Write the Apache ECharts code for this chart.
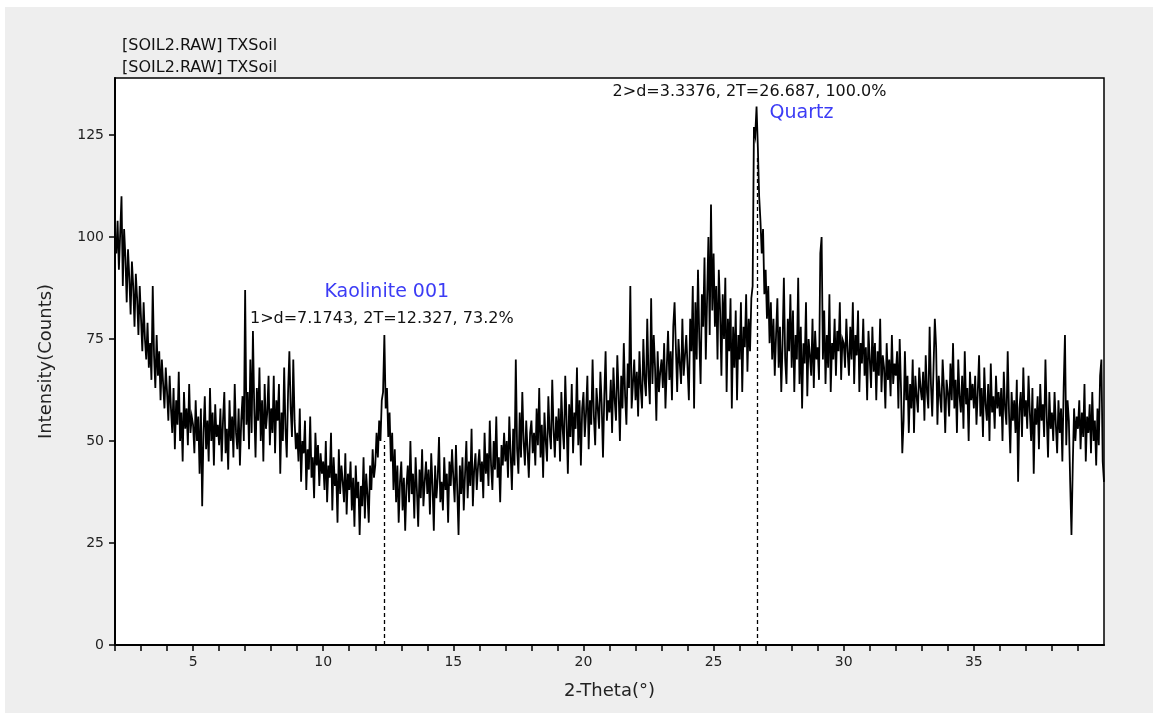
<!DOCTYPE html>
<html>
<head>
<meta charset="utf-8">
<script src="https://cdn.jsdelivr.net/npm/echarts@6.0.0/dist/echarts.min.js"></script>
<style>
  html, body { margin: 0; padding: 0; background: #fff; }
  #main { position: absolute; left: 5px; top: 7px; width: 1148px; height: 706px; background: #eeeeee; }
</style>
</head>
<body>
<div id="main"></div>
<script>
// scan: 2-Theta from 2.00 to 40.00, step 0.05
var startAngle = 2;
var stepAngle = 0.05;

// intensity (counts), one line = one degree (20 steps)
var counts2to6 = [
  100,96,104,92,101,110,88,102,95,84,97,90,81,94,88,78,91,85,76,88,
  80,72,84,75,70,79,68,74,65,88,71,63,76,66,72,60,70,64,58,68,
  62,55,66,58,52,63,48,60,54,67,50,57,45,62,53,58,49,64,52,56,
  54,47,60,50,56,42,58,34,52,61,48,55,45,63,50,57,44,59,51,54
];
var counts6to10 = [
  49,58,45,55,62,47,53,43,60,50,56,46,64,52,48,58,44,55,61,50,
  87,54,62,48,70,52,77,58,46,63,55,68,50,60,45,64,53,57,66,49,
  58,52,66,47,60,55,64,42,57,50,68,53,46,62,72,58,51,70,55,48,
  52,45,58,40,50,47,55,38,48,43,56,41,46,36,52,44,49,39,47,42
];
var counts10to14 = [
  45,38,50,35,44,41,52,33,46,39,42,30,48,37,44,40,35,47,32,42,
  38,45,33,41,29,44,36,40,27,39,34,46,31,42,37,30,44,38,48,41,
  44,52,46,55,50,60,62,76,58,63,51,57,45,52,38,48,35,44,30,40,
  45,33,41,28,39,44,35,50,37,42,31,46,38,29,43,36,48,34,40,45
];
var counts14to18 = [
  37,43,32,47,39,28,44,36,41,51,35,40,33,46,38,42,30,45,39,48,
  41,35,49,38,27,44,37,46,33,42,50,36,45,39,53,34,43,47,38,44,
  48,40,45,36,52,42,47,39,55,44,38,50,43,56,41,46,35,49,44,52,
  45,50,41,56,47,38,53,44,70,48,42,57,46,62,50,44,55,48,41,52
];
var counts18to22 = [
  55,47,52,44,58,49,63,46,54,41,57,50,45,61,52,48,65,53,46,56,
  50,58,45,62,53,48,66,55,42,59,51,64,47,57,53,68,49,60,44,58,
  62,51,57,66,48,60,54,70,56,49,63,58,53,67,59,46,61,72,55,60,
  57,65,52,68,60,55,71,62,50,66,58,74,61,54,69,63,88,58,64,70
];
var counts22to26 = [
  60,67,56,72,63,58,75,65,61,80,66,59,85,64,76,68,55,72,62,67,
  70,63,74,58,68,77,65,72,60,78,84,73,62,75,69,64,80,66,71,76,
  68,60,80,72,88,58,84,70,92,75,64,86,78,95,70,85,100,76,108,82,
  96,78,88,70,92,82,66,86,75,90,62,80,72,85,58,78,68,82,60,76
];
var counts26to30 = [
  70,84,62,78,73,86,67,80,72,85,88,127,125,132,122,110,104,96,102,86,
  92,80,88,74,84,70,80,66,76,85,68,78,62,74,90,70,64,80,72,86,
  68,82,62,76,70,90,64,78,58,74,69,84,61,75,71,66,80,63,77,70,
  73,65,96,100,70,82,64,76,68,86,62,74,70,80,66,77,72,84,65,75
];
var counts30to34 = [
  74,68,80,72,66,78,70,84,64,76,71,82,62,74,69,80,66,73,60,77,
  70,63,78,67,74,60,72,66,80,62,71,68,58,74,65,70,61,76,64,69,
  66,72,58,75,63,47,55,72,60,66,52,64,58,70,52,66,61,57,68,63,
  60,67,55,71,62,58,78,64,56,68,80,73,54,66,61,57,70,63,52,65
];
var counts34to38 = [
  62,56,69,60,74,58,65,52,70,61,57,66,53,72,59,63,50,67,60,64,
  58,66,54,62,71,56,63,51,68,59,55,64,50,69,57,61,53,66,58,62,
  56,63,50,67,58,54,72,57,47,62,55,60,52,65,40,58,62,51,68,56,
  60,53,66,57,50,63,42,58,54,61,48,64,55,59,51,70,56,46,62,53
];
var counts38to40 = [
  57,50,62,54,47,60,52,58,45,63,76,49,60,55,40,27,44,58,50,56,
  53,60,48,57,51,64,45,56,52,59,47,62,50,55,44,58,49,66,70,45,
  40
];

// peak markers
var peakAngles = [12.327, 26.687];
var peakLineTops = [50, 120];
var peakInfo = ['1>d=7.1743, 2T=12.327, 73.2%', '2>d=3.3376, 2T=26.687, 100.0%'];
var phaseNames = ['Kaolinite 001', 'Quartz'];

var xTickLabels = [5, 10, 15, 20, 25, 30, 35];
var yTickLabels = [0, 25, 50, 75, 100, 125];
var headerLines = ['[SOIL2.RAW] TXSoil', '[SOIL2.RAW] TXSoil'];

var counts = [].concat(counts2to6, counts6to10, counts10to14, counts14to18, counts18to22,
  counts22to26, counts26to30, counts30to34, counts34to38, counts38to40);
var scan = [];
for (var i = 0; i < counts.length; i++) {
  scan.push([+(startAngle + i * stepAngle).toFixed(2), counts[i]]);
}
var xMinorTicks = [];
for (var t = 2; t <= 39; t++) xMinorTicks.push(t);

var txt = 'DejaVu Sans';
var chart = echarts.init(document.getElementById('main'));
chart.setOption({
  animation: false,
  backgroundColor: '#eeeeee',
  graphic: [
    { type: 'text', left: 117, top: 31, style: { text: headerLines[0], font: '16px "DejaVu Sans"', fill: '#111' } },
    { type: 'text', left: 117, top: 53, style: { text: headerLines[1], font: '16px "DejaVu Sans"', fill: '#111' } }
  ],
  grid: {
    left: 110, top: 71, width: 989, height: 567,
    show: true, backgroundColor: '#fff', borderColor: '#000', borderWidth: 1.5
  },
  xAxis: {
    type: 'value', min: 2, max: 40,
    name: '2-Theta(°)', nameLocation: 'middle', nameGap: 37,
    nameTextStyle: { fontFamily: txt, fontSize: 18, color: '#222' },
    axisLine: { lineStyle: { color: '#000', width: 2 } },
    axisTick: { show: true, length: 6, lineStyle: { color: '#000', width: 1.5 }, customValues: xMinorTicks },
    axisLabel: { fontFamily: txt, fontSize: 14, color: '#222', margin: 10, customValues: xTickLabels },
    splitLine: { show: false }
  },
  yAxis: {
    type: 'value', min: 0, max: 139,
    name: 'Intensity(Counts)', nameLocation: 'middle', nameGap: 60, nameRotate: 90,
    nameTextStyle: { fontFamily: txt, fontSize: 18, color: '#222' },
    axisLine: { show: true, lineStyle: { color: '#000', width: 2 } },
    axisTick: { show: true, length: 6, lineStyle: { color: '#000', width: 1.5 }, customValues: yTickLabels },
    axisLabel: { fontFamily: txt, fontSize: 14, color: '#222', margin: 11, customValues: yTickLabels },
    splitLine: { show: false }
  },
  series: [{
    type: 'line',
    data: scan,
    showSymbol: false,
    sampling: null,
    lineStyle: { color: '#000', width: 1.8, join: 'miter' },
    markLine: {
      silent: true, symbol: 'none',
      lineStyle: { color: '#000', type: [4, 3], width: 1.3 },
      label: { show: false },
      data: [
        [{ coord: [peakAngles[0], 0] }, { coord: [peakAngles[0], peakLineTops[0]] }],
        [{ coord: [peakAngles[1], 0] }, { coord: [peakAngles[1], peakLineTops[1]] }]
      ]
    },
    markPoint: {
      silent: true, symbol: 'rect', symbolSize: 1,
      itemStyle: { color: 'rgba(0,0,0,0)' },
      label: { show: true, position: 'inside' },
      data: [
        { coord: [peakAngles[0], 86.5], label: { formatter: phaseNames[0], offset: [3, 0], fontFamily: txt, fontSize: 19, color: '#3c3cf5' } },
        { coord: [peakAngles[0], 80], label: { formatter: peakInfo[0], offset: [-2, 0], fontFamily: txt, fontSize: 16, color: '#111' } },
        { coord: [peakAngles[1], 135.6], label: { formatter: peakInfo[1], offset: [-8, 0], fontFamily: txt, fontSize: 16, color: '#111' } },
        { coord: [peakAngles[1], 130.4], label: { formatter: phaseNames[1], align: 'left', offset: [12, 0], fontFamily: txt, fontSize: 19, color: '#3c3cf5' } }
      ]
    }
  }]
});
</script>
</body>
</html>
